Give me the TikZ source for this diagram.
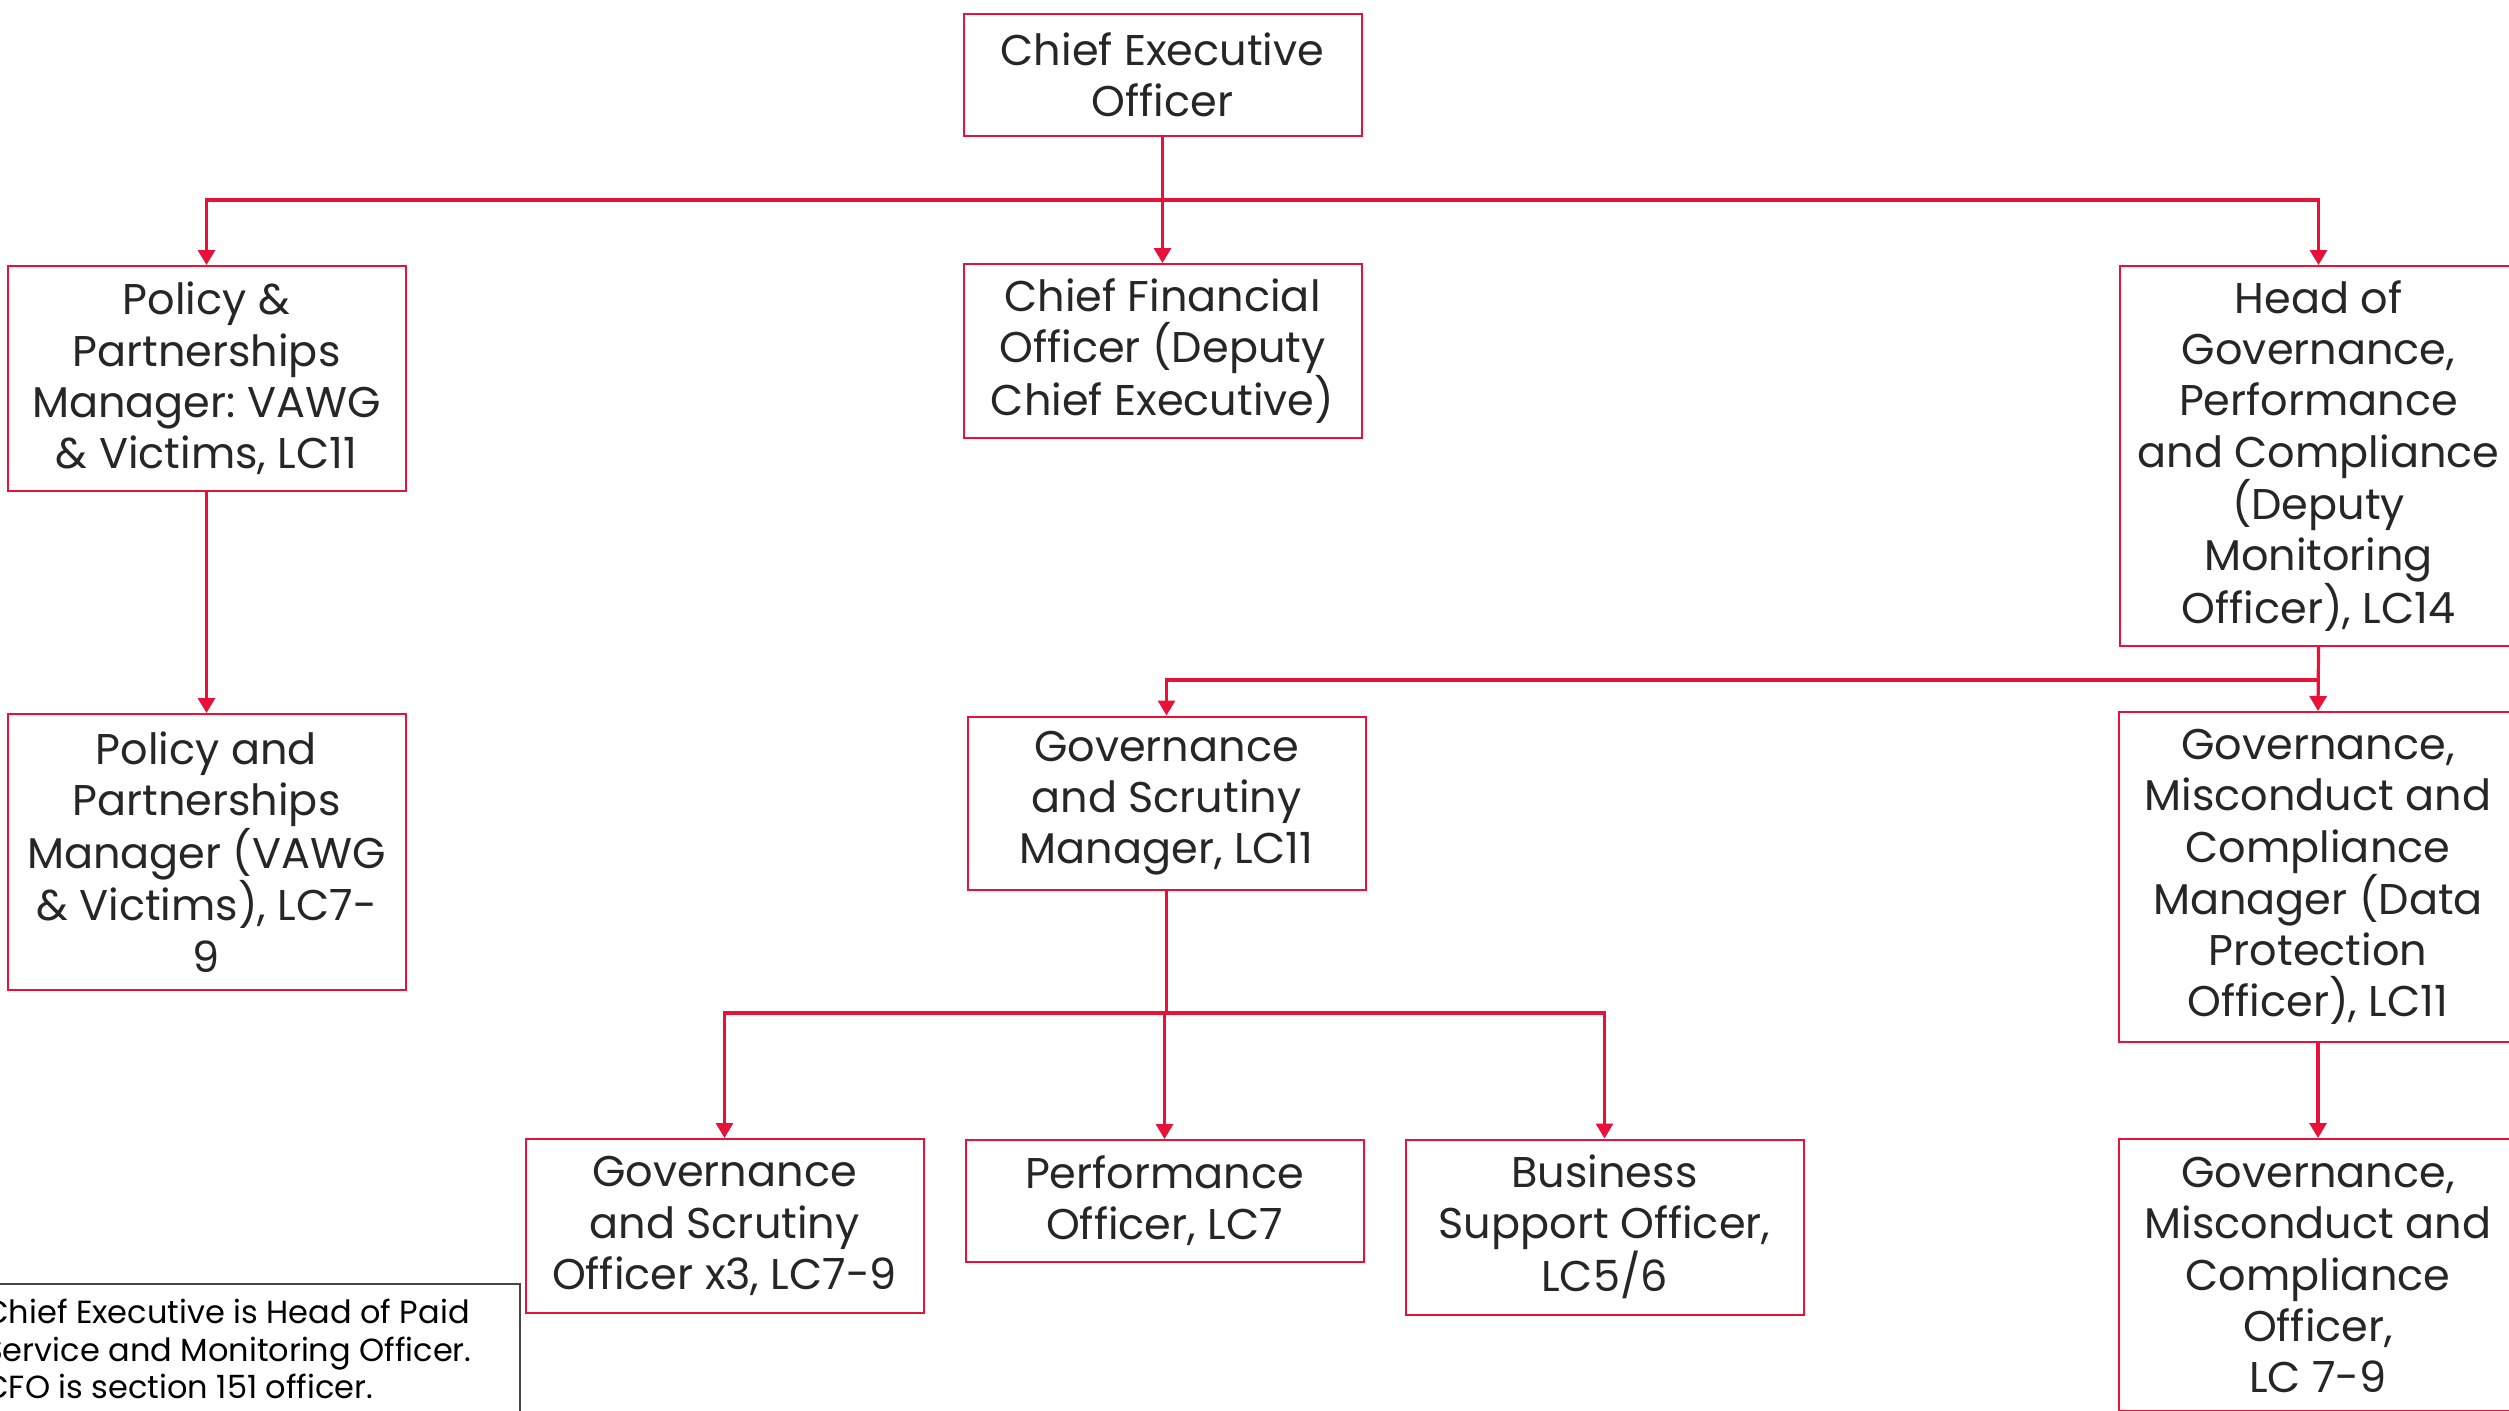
\documentclass[tikz,border=0pt]{standalone}
\usepackage{fontspec}
\setmainfont{Poppins}
\frenchspacing
\usetikzlibrary{arrows.meta}
\definecolor{orgred}{RGB}{232,17,58}
\definecolor{txtgray}{RGB}{38,38,38}
\definecolor{notegray}{RGB}{70,70,70}
\tikzset{
  orgbox/.style={draw=orgred, line width=2pt, text=txtgray, align=center, inner sep=0pt,
    minimum width=398pt, font=\fontsize{43}{51.2}\selectfont},
  conn/.style={draw=orgred, line width=3.2pt, -{Triangle[length=15pt,width=17pt]}},
  link/.style={draw=orgred, line width=3.2pt},
}
\begin{document}
\begin{tikzpicture}[x=1pt,y=-1pt]
\useasboundingbox (0,0) rectangle (2509,1411);
\clip (0,0) rectangle (2509,1411);
% boxes
\node[orgbox, minimum height=122pt] (ceo) at (1162.5,75) {Chief Executive\\Officer};
\node[orgbox, minimum height=174pt] (cfo) at (1162.5,351) {Chief Financial\\Officer (Deputy\\Chief Executive)};
\node[orgbox, minimum height=225pt] (pp) at (206.5,378.5) {Policy \&\\Partnerships\\Manager: VAWG\\\& Victims, LC11};
\node[orgbox, minimum height=276pt] (ppl) at (206.5,852) {Policy and\\Partnerships\\Manager (VAWG\\\& Victims), LC7-\\9};
\node[orgbox, minimum height=380pt] (hg) at (2318.5,456) {Head of\\Governance,\\Performance\\and Compliance\\(Deputy\\Monitoring\\Officer), LC14};
\node[orgbox, minimum height=173pt] (gsm) at (1166.5,803) {Governance\\and Scrutiny\\Manager, LC11};
\node[orgbox, minimum height=330pt] (gmm) at (2318,877) {Governance,\\Misconduct and\\Compliance\\Manager (Data\\Protection\\Officer), LC11};
\node[orgbox, minimum height=174pt] (gso) at (724.5,1226) {Governance\\and Scrutiny\\Officer x3, LC7-9};
\node[orgbox, minimum height=122pt] (po) at (1164.5,1201) {Performance\\Officer, LC7};
\node[orgbox, minimum height=175pt] (bso) at (1604.5,1227) {Business\\Support Officer,\\LC5/6};
\node[orgbox, minimum height=272pt] (gmo) at (2318,1275) {Governance,\\Misconduct and\\Compliance\\Officer,\\LC 7-9};
% note
\node[draw=notegray, line width=1.6pt, anchor=north east, minimum width=560pt, minimum height=200pt, inner sep=0pt] (note) at (521,1283) {};
\node[anchor=north west, align=left, inner sep=0pt, text=black, font=\fontsize{32}{37.6}\selectfont] (notetext) at (-16,1299) {Chief Executive is Head of Paid\\Service and Monitoring Officer.\\CFO is section 151 officer.};
% connectors
\coordinate (j1) at (1162.5,200);
\coordinate (j2) at (2318.5,680);
\coordinate (j3) at (1166.5,1013);
\draw[conn] (ceo.south) -- (cfo.north);
\draw[link] (ceo.south) -- (j1);
\draw[conn] (j1) -| (pp.north);
\draw[conn] (j1) -| (hg.north);
\draw[conn] (pp.south) -- (ppl.north);
\draw[conn] (hg.south) -- (gmm.north);
\draw[conn] (j2) -| (gsm.north);
\draw[link] (gsm.south) -- (j3);
\draw[conn] (j3) -| (gso.north);
\draw[conn] (j3) -| (bso.north);
\draw[conn] (j3) -| (po.north);
\draw[conn] (gmm.south) -- (gmo.north);
\end{tikzpicture}
\end{document}
